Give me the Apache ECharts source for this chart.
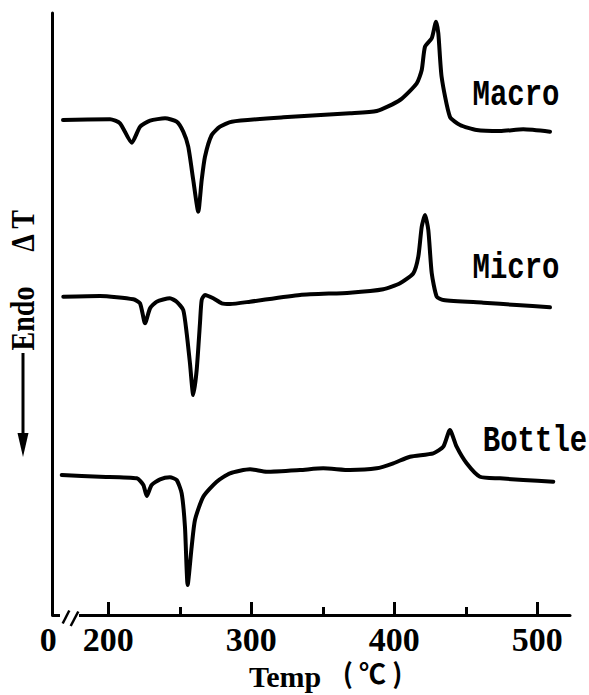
<!DOCTYPE html>
<html><head><meta charset="utf-8">
<script src="https://cdn.jsdelivr.net/npm/echarts@6/dist/echarts.min.js"></script>
</head>
<body style="margin:0;background:#fff">
<div id="c" style="width:589px;height:695px"></div>
<script>
// Temperature (°C) and ΔT signal (arbitrary units, height above the axis)
const macroT = [168.3,201.2,208.2,216.4,222.2,229.2,239.7,247.8,252.4,255.9,259.4,262.9,265.3,267.6,272.3,278.1,286.3,322.4,369.0,387.7,404.0,415.7,419.2,421.5,426.2,429.2,430.8,433.1,438.9,446.0,457.6,474.0,490.2,508.9];
const macroV = [495,495.7,491.7,472.3,488.3,494.3,496.7,493.3,483.3,468.3,435,403.3,435,458.3,480,488.3,493.3,497.7,501.7,504,515,531.7,545,568.3,576.7,593.3,581.7,538.3,498.3,490,485,484,485.7,483.3];

const microT = [168.5,194.2,217.5,222.2,225.7,229.2,233.8,243.1,247.8,252.4,254.8,257.1,259.4,261.8,264.1,265.3,267.6,273.4,279.3,285.1,299.1,334.1,369.0,392.3,404.0,413.3,416.8,419.2,421.5,423.8,426.2,429.7,434.3,462.2,485.6,508.9];
const microV = [318.3,319,315.7,311.7,291.7,306.7,313.3,316.7,313.3,305,281.7,251.7,220,245,291.7,315,320,316.7,311.7,311,313.3,320,322.3,325.7,331.7,341.7,358.3,388.3,400,385,341.7,318.3,315,312.3,310,307.7];

const bottleT = [167.4,194.2,219.9,224.5,226.9,230.3,236.2,243.1,247.8,251.3,253.6,255.5,258.3,260.6,266.4,275.8,285.1,299.1,310.8,334.1,350.3,369.0,387.7,399.3,411.0,427.3,434.3,438.9,443.6,450.6,459.9,473.9,490.2,511.2];
const bottleV = [140,138.3,136.7,130,119,130,135.7,137.7,135,121.7,88.3,30,68.3,95,118.3,133.3,141.7,145.7,143.3,145,146.7,145,146.7,151.7,158.3,161.7,168.3,185,168.3,151.7,138.3,136.7,135,133.3];

const majorTicks = [200, 300, 400, 500];
const minorTicks = [250, 350, 450];
const seriesNames = ['Macro', 'Micro', 'Bottle'];

const pairs = (t, v) => t.map((x, i) => [x, v[i]]);

const chart = echarts.init(document.getElementById('c'), null, {renderer: 'svg'});
const serifBold = {fontFamily: 'Liberation Serif', fontWeight: 'bold', fill: '#000'};
const monoBold = {fontFamily: 'Liberation Mono', fontWeight: 'bold', fill: '#000', fontSize: 29, align: 'center', verticalAlign: 'middle'};

const lineSeries = (name, t, v) => ({
  name, type: 'line', data: pairs(t, v), showSymbol: false, smooth: 0.2,
  lineStyle: {color: '#000', width: 4, cap: 'round', join: 'round'},
  animation: false
});

chart.setOption({
  animation: false,
  backgroundColor: '#fff',
  grid: {left: 52.7, right: 19, top: 13, bottom: 80},
  xAxis: [{
    type: 'value', min: 161.1, max: 522.9,
    axisLine: {lineStyle: {color: '#000', width: 3}},
    axisTick: {inside: true, length: 13, customValues: majorTicks, lineStyle: {color: '#000', width: 3}},
    axisLabel: {customValues: majorTicks, fontFamily: 'Liberation Serif', fontWeight: 'bold', fontSize: 34, color: '#000', margin: 7},
    splitLine: {show: false}
  }, {
    type: 'value', min: 161.1, max: 522.9, position: 'bottom',
    axisLine: {show: false},
    axisTick: {inside: true, length: 8, customValues: minorTicks, lineStyle: {color: '#000', width: 3}},
    axisLabel: {show: false},
    splitLine: {show: false}
  }],
  yAxis: {
    type: 'value', min: 0, max: 602,
    axisLine: {show: true, lineStyle: {color: '#000', width: 3}},
    axisTick: {show: false}, axisLabel: {show: false}, splitLine: {show: false}
  },
  series: [
    lineSeries(seriesNames[0], macroT, macroV),
    lineSeries(seriesNames[1], microT, microV),
    lineSeries(seriesNames[2], bottleT, bottleV)
  ],
  graphic: [
    // axis break
    {type: 'rect', shape: {x: 60, y: 611, width: 19, height: 8}, style: {fill: '#fff'}, z: 100},
    {type: 'line', shape: {x1: 62.7, y1: 623.5, x2: 69.3, y2: 610.5}, style: {stroke: '#000', lineWidth: 2.5}, z: 101},
    {type: 'line', shape: {x1: 70.7, y1: 626, x2: 78.3, y2: 611.5}, style: {stroke: '#000', lineWidth: 2.5}, z: 101},
    {type: 'text', x: 48.3, y: 639, style: Object.assign({text: '0', fontSize: 34, align: 'center', verticalAlign: 'middle'}, serifBold), z: 101},
    // axis title
    {type: 'text', x: 285, y: 676, style: Object.assign({text: 'Temp', fontSize: 30, align: 'center', verticalAlign: 'middle'}, serifBold), z: 101},
    {type: 'text', x: 372.5, y: 672, style: {text: '( \u2103 )', fontSize: 27, align: 'center', verticalAlign: 'middle', fontFamily: 'Noto Sans CJK SC', fontWeight: 'bold', fill: '#000'}, z: 101},
    // y-axis annotation (rotated)
    {type: 'text', x: 23, y: 231, rotation: Math.PI / 2, scaleY: 1.2, style: Object.assign({text: '\u0394 T', fontSize: 28, align: 'center', verticalAlign: 'middle'}, serifBold), z: 101},
    {type: 'text', x: 23, y: 318.5, rotation: Math.PI / 2, scaleY: 1.2, style: Object.assign({text: 'Endo', fontSize: 28, align: 'center', verticalAlign: 'middle'}, serifBold), z: 101},
    {type: 'line', shape: {x1: 23, y1: 353, x2: 23, y2: 440}, style: {stroke: '#000', lineWidth: 3}, z: 101},
    {type: 'polygon', shape: {points: [[17.5, 433], [28.5, 433], [23, 457]]}, style: {fill: '#000'}, z: 101},
    // curve labels
    {type: 'text', x: 516, y: 95.5, scaleY: 1.25, style: Object.assign({text: seriesNames[0]}, monoBold), z: 101},
    {type: 'text', x: 516, y: 269, scaleY: 1.25, style: Object.assign({text: seriesNames[1]}, monoBold), z: 101},
    {type: 'text', x: 535, y: 441.5, scaleY: 1.25, style: Object.assign({text: seriesNames[2]}, monoBold), z: 101}
  ]
});
</script>
</body></html>
